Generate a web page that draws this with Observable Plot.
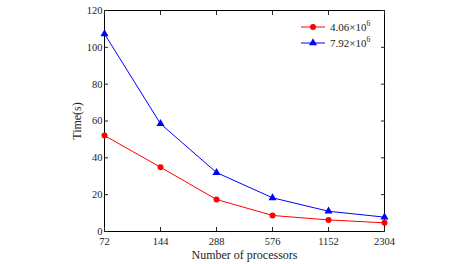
<!DOCTYPE html>
<html><head><meta charset="utf-8">
<script src="https://cdn.jsdelivr.net/npm/d3@7"></script>
<script src="https://cdn.jsdelivr.net/npm/@observablehq/plot@0.6"></script>
<style>
body{margin:0;background:#fff;}
svg{font-family:"Liberation Serif","DejaVu Serif",serif;}
</style></head>
<body><div id="chart"></div>
<script>
const processors = [72, 144, 288, 576, 1152, 2304];
const timeA = [52.1, 34.9, 17.4, 8.7, 6.3, 4.7];   // 4.06×10^6
const timeB = [107.3, 58.5, 32.0, 18.3, 11.0, 7.8]; // 7.92×10^6
const seriesNames = ["4.06×10", "7.92×10"];
const seriesExp = "6";
const colors = ["#ff0000", "#0000ff"];
const yTicks = [0, 20, 40, 60, 80, 100, 120];

const dataA = processors.map((p, i) => ({p, t: timeA[i]}));
const dataB = processors.map((p, i) => ({p, t: timeB[i]}));

const W = 456, H = 264, mL = 104, mR = 72, mT = 10, mB = 33;
const chart = Plot.plot({
  width: W, height: H,
  marginLeft: mL, marginRight: mR, marginTop: mT, marginBottom: mB,
  style: {fontFamily: "Liberation Serif, serif", fontSize: "10.5px", color: "#222", background: "#fff"},
  x: {type: "log", base: 2, domain: [72, 2304]},
  y: {domain: [0, 120]},
  marks: [
    Plot.frame({stroke: "#000", strokeWidth: 1}),
    Plot.axisX({anchor: "bottom", ticks: processors, tickFormat: d => String(d), tickSize: -4, tickPadding: 10, label: null}),
    Plot.axisX({anchor: "bottom", ticks: [], label: "Number of processors", labelAnchor: "center", labelArrow: "none", labelOffset: 27, fontSize: 12}),
    Plot.axisX({anchor: "top", ticks: processors, tickSize: -4, tickFormat: () => "", label: null}),
    Plot.axisY({anchor: "left", ticks: yTicks, tickSize: -4, tickPadding: 6, label: null}),
    Plot.axisY({anchor: "left", ticks: [], label: "Time(s)", labelAnchor: "center", labelArrow: "none", labelOffset: 32, fontSize: 12}),
    Plot.axisY({anchor: "right", ticks: yTicks, tickSize: -4, tickFormat: () => "", label: null}),
    Plot.line(dataA, {x: "p", y: "t", stroke: colors[0], strokeWidth: 1}),
    Plot.dot(dataA, {x: "p", y: "t", fill: colors[0], r: 3, symbol: "circle"}),
    Plot.line(dataB, {x: "p", y: "t", stroke: colors[1], strokeWidth: 1}),
    Plot.dot(dataB, {x: "p", y: "t", fill: colors[1], r: 3, symbol: "triangle"})
  ]
});
document.getElementById("chart").appendChild(chart);

// legend inside the frame
const svg = d3.select(chart);
const lx = 301, ly0 = 27, dyL = 16;
const sym = [d3.symbolCircle, d3.symbolTriangle];
seriesNames.forEach((name, i) => {
  const g = svg.append("g").attr("transform", `translate(${lx},${ly0 + i * dyL})`);
  g.append("line").attr("x1", 0).attr("x2", 24).attr("stroke", colors[i]).attr("stroke-width", 1);
  g.append("path").attr("d", d3.symbol(sym[i], 28)()).attr("transform", "translate(12,0)").attr("fill", colors[i]);
  const t = g.append("text").attr("x", 29).attr("y", 4).attr("font-size", 11).attr("fill", "#222")
    .attr("text-anchor", "start").attr("font-family", "Liberation Serif, serif");
  t.append("tspan").text(name);
  t.append("tspan").attr("dy", -5).attr("font-size", 7.5).text(seriesExp);
});
</script></body></html>
